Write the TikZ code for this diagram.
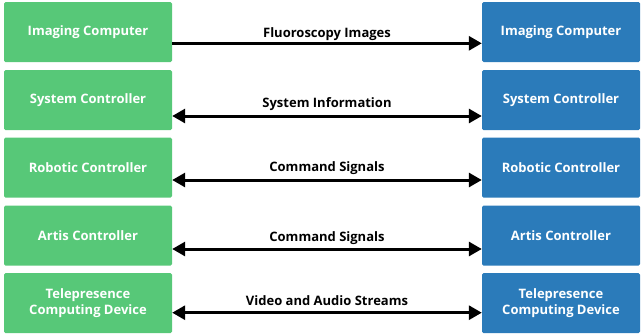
\documentclass[tikz,border=0pt]{standalone}
\usepackage{fontspec}
\setmainfont{Open Sans}
\usetikzlibrary{arrows.meta}
\definecolor{gbox}{RGB}{87,200,120}
\definecolor{bbox}{RGB}{43,123,186}
\tikzset{
  gnode/.style={fill=gbox, rounded corners=1.5pt, minimum width=168pt, minimum height=60pt, text=white, font=\bfseries\fontsize{13}{16.5}\selectfont, align=center, inner sep=0pt},
  bnode/.style={fill=bbox, rounded corners=1.5pt, minimum width=158pt, minimum height=60pt, text=white, font=\bfseries\fontsize{13}{16.5}\selectfont, align=center, inner sep=0pt},
  conn/.style={line width=3pt, black},
  lbl/.style={font=\bfseries\fontsize{13}{15}\selectfont, text=black, inner sep=0pt, anchor=base}
}
\begin{document}
\begin{tikzpicture}[x=1pt,y=-1pt,>={Triangle[length=13pt,width=14pt]}]
\useasboundingbox (0,0) rectangle (641,335);
\node[gnode] (g1) at (88,32) {Imaging Computer};
\node[gnode] (g2) at (88,100) {System Controller};
\node[gnode] (g3) at (88,167.5) {Robotic Controller};
\node[gnode] (g4) at (88,235.5) {Artis Controller};
\node[gnode] (g5) at (88,303) {Telepresence\\Computing Device};
\node[bnode] (b1) at (561,32) {Imaging Computer};
\node[bnode] (b2) at (561,100) {System Controller};
\node[bnode] (b3) at (561,167.5) {Robotic Controller};
\node[bnode] (b4) at (561,235.5) {Artis Controller};
\node[bnode] (b5) at (561,303) {Telepresence\\Computing Device};

\draw[conn,->] ([yshift=-11.3pt]g1.east) -- node[lbl, yshift=6.3pt] (l1) {Fluoroscopy Images} ([yshift=-11.3pt]b1.west);
\draw[conn,<->] ([yshift=-16pt]g2.east) -- node[lbl, yshift=8.3pt] (l2) {System Information} ([yshift=-16pt]b2.west);
\draw[conn,<->] ([yshift=-12.5pt]g3.east) -- node[lbl, yshift=8.3pt] (l3) {Command Signals} ([yshift=-12.5pt]b3.west);
\draw[conn,<->] ([yshift=-13.5pt]g4.east) -- node[lbl, yshift=7.3pt] (l4) {Command Signals} ([yshift=-13.5pt]b4.west);
\draw[conn,<->] ([yshift=-9.7pt]g5.east) -- node[lbl, yshift=7.7pt] (l5) {Video and Audio Streams} ([yshift=-9.7pt]b5.west);
\end{tikzpicture}
\end{document}
